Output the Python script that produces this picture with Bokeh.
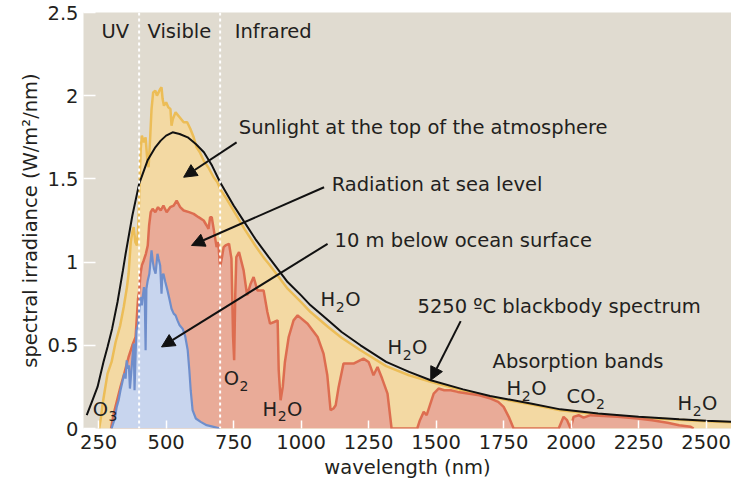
from bokeh.plotting import figure
from bokeh.models import Label, Arrow, NormalHead, Span, FixedTicker, Title
from bokeh.embed import file_html
from bokeh.resources import INLINE

FONT = "DejaVu Sans"
FS_PX = 19.5
FS = "19.5px"
SUB_PX = 14
TXT = "#231f20"

# 5250 ºC blackbody spectrum (black line)
bb_w = [206, 225, 246, 268, 283, 300, 320, 340, 350, 375, 400, 431, 460, 480, 500, 524, 550, 580,
        610, 640, 670, 700, 750, 790, 830, 880, 950, 1000, 1035, 1100, 1150, 1220, 1315, 1400,
        1480, 1600, 1700, 1850, 1960, 2100, 2250, 2400, 2500, 2594]
bb_v = [0.08, 0.16, 0.25, 0.40, 0.49, 0.60, 0.76, 0.95, 1.05, 1.28, 1.47, 1.61, 1.69, 1.73, 1.76,
        1.78, 1.77, 1.75, 1.71, 1.66, 1.58, 1.48, 1.34, 1.24, 1.14, 1.03, 0.88, 0.80, 0.74, 0.65,
        0.58, 0.50, 0.40, 0.34, 0.29, 0.235, 0.195, 0.15, 0.115, 0.09, 0.07, 0.055, 0.047, 0.04]

# Sunlight at the top of the atmosphere (yellow)
toa_w = [252, 258, 265, 283, 298, 313, 330, 343, 355, 361, 369, 375, 380, 386, 392, 398, 402, 406,
         410, 418, 424, 430, 435, 441, 446, 452, 460, 466, 472, 478, 483, 487, 492, 500, 508, 516,
         520, 525, 535, 550, 565, 578, 590, 602, 613, 625, 639, 656, 676, 690, 700, 720, 750, 790,
         830, 860, 870, 880, 950, 1000, 1035, 1100, 1150, 1220, 1315, 1400, 1480, 1600, 1700, 1850,
         1960, 2100, 2250, 2400, 2500, 2594]
toa_v = [0.0, 0.06, 0.15, 0.33, 0.40, 0.52, 0.62, 0.73, 0.85, 0.93, 1.12, 1.18, 1.21, 1.12, 1.10,
         1.25, 1.50, 1.68, 1.76, 1.72, 1.75, 1.62, 1.57, 1.75, 1.92, 2.02, 2.03, 2.00, 2.02, 2.04,
         2.05, 1.98, 1.94, 1.96, 1.93, 1.92, 1.82, 1.86, 1.90, 1.87, 1.84, 1.84, 1.80, 1.75, 1.69,
         1.66, 1.61, 1.57, 1.51, 1.48, 1.44, 1.39, 1.31, 1.20, 1.10, 1.03, 1.01, 0.99, 0.84, 0.76,
         0.70, 0.61, 0.545, 0.47, 0.375, 0.32, 0.28, 0.228, 0.19, 0.145, 0.11, 0.086, 0.066, 0.052,
         0.044, 0.037]

# Radiation at sea level (red)
sea_w = [296, 306, 320, 331, 345, 361, 375, 387, 392, 396, 400, 405, 410, 417, 425, 432, 437, 443,
         450, 460, 470, 480, 490, 502, 515, 528, 539, 552, 565, 585, 602, 620, 639, 650, 657, 663,
         669, 678, 687, 693, 700, 707, 713, 720, 733, 742, 748, 752, 756, 760, 770, 787, 800, 813,
         824, 838, 861, 875, 885, 900, 913, 917, 924, 932, 940, 954, 972, 987, 1024, 1061, 1083,
         1097, 1109, 1120, 1128, 1139, 1157, 1194, 1231, 1250, 1257, 1268, 1283, 1300, 1320, 1335,
         1430, 1440, 1454, 1465, 1491, 1509, 1530, 1554, 1580, 1617, 1660, 1702, 1730, 1750, 1769,
         1787, 1954, 1972, 1985, 1998, 2009, 2028, 2046, 2072, 2120, 2172, 2246, 2300, 2357, 2400,
         2443, 2454]
sea_v = [0.0, 0.09, 0.18, 0.25, 0.33, 0.43, 0.50, 0.55, 0.68, 0.78, 0.82, 0.93, 0.98, 1.01, 1.05,
         1.10, 1.22, 1.30, 1.32, 1.30, 1.33, 1.31, 1.34, 1.30, 1.33, 1.34, 1.37, 1.33, 1.31, 1.30,
         1.29, 1.27, 1.25, 1.22, 1.20, 1.27, 1.27, 1.18, 1.09, 1.12, 0.97, 1.03, 1.09, 1.10, 1.11,
         1.02, 0.55, 0.41, 0.80, 1.03, 1.06, 0.95, 0.80, 0.87, 0.91, 0.83, 0.83, 0.70, 0.63, 0.64,
         0.65, 0.35, 0.17, 0.25, 0.40, 0.55, 0.65, 0.68, 0.63, 0.55, 0.45, 0.32, 0.11, 0.12, 0.14,
         0.25, 0.39, 0.39, 0.42, 0.40, 0.37, 0.32, 0.37, 0.30, 0.21, 0.0, 0.0, 0.05, 0.10, 0.08,
         0.21, 0.24, 0.23, 0.23, 0.22, 0.21, 0.20, 0.18, 0.16, 0.13, 0.07, 0.0, 0.0, 0.07, 0.05,
         0.0, 0.07, 0.08, 0.065, 0.08, 0.075, 0.07, 0.06, 0.05, 0.035, 0.02, 0.01, 0.0]

# 10 m below ocean surface (blue)
sub_w = [298, 310, 317, 324, 331, 338, 345, 350, 354, 358, 362, 366, 369, 375, 380, 383, 387, 390,
         396, 400, 405, 410, 414, 418, 421, 424, 427, 432, 438, 442, 446, 451, 455, 461, 465, 468,
         472, 478, 483, 486, 490, 497, 505, 512, 520, 528, 535, 542, 550, 561, 570, 580, 586, 591,
         598, 610, 628, 650, 676, 700]
sub_v = [0.0, 0.06, 0.13, 0.17, 0.23, 0.28, 0.33, 0.30, 0.41, 0.36, 0.38, 0.24, 0.30, 0.42, 0.51,
         0.23, 0.45, 0.59, 0.62, 0.70, 0.79, 0.74, 0.80, 0.85, 0.78, 0.47, 0.84, 0.89, 0.93, 1.00,
         1.07, 1.00, 0.96, 0.93, 1.00, 1.05, 1.02, 0.98, 0.81, 0.92, 0.93, 0.88, 0.83, 0.78, 0.72,
         0.69, 0.68, 0.65, 0.62, 0.60, 0.56, 0.47, 0.35, 0.23, 0.11, 0.06, 0.04, 0.02, 0.01, 0.0]

x_ticks = [250, 500, 750, 1000, 1250, 1500, 1750, 2000, 2250, 2500]
x_tick_labels = ["250", "500", "750", "1000", "1250", "1500", "1750", "2000", "2250", "2500"]
y_ticks = [0, 0.5, 1, 1.5, 2, 2.5]
y_tick_labels = ["0", "0.5", "1", "1.5", "2", "2.5"]

band_edges = [400, 700]

texts = [
    ("UV", 261, 2.385),
    ("Visible", 431, 2.385),
    ("Infrared", 754, 2.385),
    ("Sunlight at the top of the atmosphere", 769, 1.807),
    ("Radiation at sea level", 1113, 1.464),
    ("10 m below ocean surface", 1124, 1.127),
    ("5250 ºC blackbody spectrum", 1431, 0.735),
    ("Absorption bands", 1709, 0.404),
]

# chemical labels: (main, subscript, tail, x, y)
chem = [
    ("H", "2", "O", 1072, 0.775),
    ("H", "2", "O", 1320, 0.485),
    ("H", "2", "O", 1761, 0.238),
    ("CO", "2", "", 1983, 0.19),
    ("H", "2", "O", 2394, 0.148),
    ("O", "2", "", 713, 0.298),
    ("H", "2", "O", 857, 0.117),
    ("O", "3", "", 228, 0.117),
]

y_title = "spectral irradiance (W/m²/nm)"
x_title = "wavelength (nm)"

arrows = [
    (761, 1.72, 565, 1.51),
    (1085, 1.45, 594, 1.10),
    (1098, 1.11, 483, 0.49),
    (1591, 0.645, 1480, 0.29),
]

# DejaVu Sans advance widths (units per em = 2048)
ADV = {"H": 1540, "O": 1612, "C": 1430}
DIGIT = 1303


def text_w(s, px):
    return sum(ADV.get(c, DIGIT) for c in s) / 2048 * px


p = figure(width=731, height=487, x_range=(194, 2594), y_range=(0, 2.5),
           output_backend="svg", toolbar_location=None,
           min_border_left=83, min_border_right=0, min_border_top=12, min_border_bottom=59)
p.background_fill_color = "#e0dbd0"
p.border_fill_color = "white"
p.outline_line_color = None
p.xgrid.visible = False
p.ygrid.visible = False

zeros = lambda n: [0] * n
p.varea(x=toa_w, y1=zeros(len(toa_w)), y2=toa_v, fill_color="#f3d9a3")
p.line(toa_w, toa_v, line_color="#ecbd57", line_width=2.5)
p.varea(x=sea_w, y1=zeros(len(sea_w)), y2=sea_v, fill_color="#e9ab98")
p.line(sea_w, sea_v, line_color="#dd6d50", line_width=2.5)
p.varea(x=sub_w, y1=zeros(len(sub_w)), y2=sub_v, fill_color="#c8d5ee")
p.line(sub_w, sub_v, line_color="#6f8ecb", line_width=2.2)
p.line(bb_w, bb_v, line_color="#111111", line_width=2)

for loc in band_edges:
    p.add_layout(Span(location=loc, dimension="height", line_color="white",
                      line_dash="3 3", line_width=2))

for (x0, y0, x1, y1) in arrows:
    p.add_layout(Arrow(end=NormalHead(size=13, fill_color="#111111", line_color="#111111"),
                       x_start=x0, y_start=y0, x_end=x1, y_end=y1,
                       line_color="#111111", line_width=2))

for (t, x, y) in texts:
    p.add_layout(Label(x=x, y=y, text=t, text_font=FONT, text_font_size=FS,
                       text_color=TXT, text_baseline="middle", text_align="left"))

for (m, s, tail, x, y) in chem:
    w_m = text_w(m, FS_PX)
    w_s = text_w(s, SUB_PX)
    p.add_layout(Label(x=x, y=y, text=m, text_font=FONT, text_font_size=FS,
                       text_color=TXT, text_baseline="middle", text_align="left"))
    p.add_layout(Label(x=x, y=y, x_offset=w_m + 0.5, y_offset=-7, text=s, text_font=FONT,
                       text_font_size=f"{SUB_PX}px", text_color=TXT,
                       text_baseline="middle", text_align="left"))
    if tail:
        p.add_layout(Label(x=x, y=y, x_offset=w_m + w_s + 1, text=tail, text_font=FONT,
                           text_font_size=FS, text_color=TXT,
                           text_baseline="middle", text_align="left"))

p.xaxis.ticker = FixedTicker(ticks=x_ticks)
p.yaxis.ticker = FixedTicker(ticks=y_ticks)
p.xaxis.major_label_overrides = dict(zip(x_ticks, x_tick_labels))
p.yaxis.major_label_overrides = {float(k): v for k, v in zip(y_ticks, y_tick_labels)}
p.xaxis.axis_label = x_title

for ax, tin in ((p.xaxis[0], 8), (p.yaxis[0], 12)):
    ax.axis_line_color = None
    ax.major_tick_line_color = "white"
    ax.major_tick_line_width = 1.5
    ax.major_tick_in = tin
    ax.major_tick_out = 0
    ax.minor_tick_line_color = None
    ax.major_label_text_font = FONT
    ax.major_label_text_font_size = FS
    ax.major_label_text_color = TXT
    ax.axis_label_text_font = FONT
    ax.axis_label_text_font_size = FS
    ax.axis_label_text_font_style = "normal"
    ax.axis_label_text_color = TXT

p.xaxis.major_label_standoff = 6
p.xaxis.axis_label_standoff = 4
p.yaxis.major_label_standoff = 5

# y-axis title as a side title so it can be shifted up like the reference
p.add_layout(Title(text=y_title, align="center", offset=15, standoff=6, text_font=FONT,
                   text_font_size=FS, text_font_style="normal", text_color=TXT), "left")

open("out.html", "w").write(file_html(p, INLINE))
